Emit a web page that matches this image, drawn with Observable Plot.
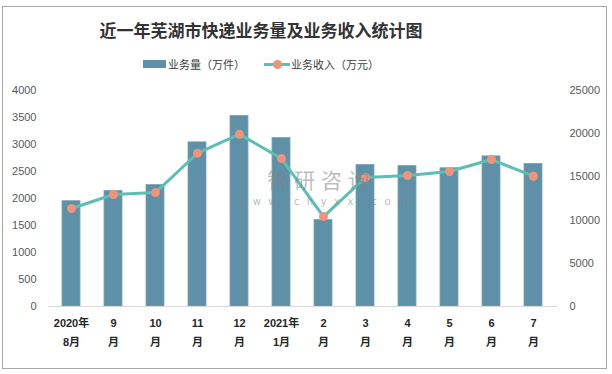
<!DOCTYPE html>
<html>
<head>
<meta charset="utf-8">
<script src="https://cdn.jsdelivr.net/npm/d3@7"></script>
<script src="https://cdn.jsdelivr.net/npm/@observablehq/plot@0.6"></script>
<style>
  html, body { margin: 0; padding: 0; background: #fff; }
  body { width: 612px; height: 374px; position: relative; overflow: hidden;
         font-family: "Liberation Sans", "Noto Sans CJK SC", sans-serif; }
  #frame { position: absolute; left: 2px; top: 6px; width: 605px; height: 363px;
           box-sizing: border-box; border: 1px solid #A6A6A6; pointer-events: none; }
  #title { position: absolute; left: 0; top: 19px; width: 522px; text-align: center;
           font-family: "Noto Sans CJK SC", sans-serif; font-weight: bold; font-size: 17px;
           line-height: 22px; color: #333; }
  .lg { position: absolute; top: 56px; font-family: "Noto Sans CJK SC", sans-serif;
        font-size: 11px; line-height: 16px; color: #404040; white-space: nowrap; }
  #chart { position: absolute; left: 0; top: 80px; z-index: 1; }
  .wm { position: absolute; z-index: 2; color: rgba(130,130,130,0.55); font-family: "Noto Sans CJK SC", sans-serif;
        white-space: nowrap; pointer-events: none; }
</style>
</head>
<body>
<div id="title">近一年芜湖市快递业务量及业务收入统计图</div>
<div id="legend"></div>
<div id="chart"></div>
<div class="wm" style="left:267px; top:168px; font-size:21px; letter-spacing:6px; line-height:22px;">智研咨询</div>
<div class="wm" style="left:237px; top:196px; font-size:10px; letter-spacing:7.5px; line-height:11px; font-family:'DejaVu Sans',sans-serif;">www.chyxx.com</div>
<div id="frame"></div>
<script>
const categories = ["2020年8月","9月","10月","11月","12月","2021年1月","2月","3月","4月","5月","6月","7月"];
const labelLine1 = ["2020年","9","10","11","12","2021年","2","3","4","5","6","7"];
const labelLine2 = ["8月","月","月","月","月","1月","月","月","月","月","月","月"];
const volume = [1950, 2140, 2250, 3040, 3530, 3120, 1600, 2620, 2600, 2560, 2780, 2640];
const revenue = [11340, 12960, 13190, 17740, 19940, 17120, 10410, 14930, 15160, 15620, 17010, 15080];
const leftTicks = [0, 500, 1000, 1500, 2000, 2500, 3000, 3500, 4000];
const rightTicks = [0, 5000, 10000, 15000, 20000, 25000];
const seriesNames = ["业务量（万件）", "业务收入（万元）"];

const barColor = "#5E91A8";
const lineColor = "#5BBFB3";
const dotColor = "#F0937B";

const leftMax = 4000, rightMax = 25000;
const k = leftMax / rightMax;

const data = categories.map((c, i) => ({cat: c, volume: volume[i], revenue: revenue[i]}));
const idx = d => categories.indexOf(d);

const chart = Plot.plot({
  width: 612,
  height: 294,
  marginTop: 10,
  marginBottom: 68,
  marginLeft: 48,
  marginRight: 55,
  style: {fontFamily: "'Liberation Sans', 'Noto Sans CJK SC', sans-serif", background: "transparent"},
  x: {domain: categories, paddingInner: 0.56, paddingOuter: 0.28, axis: null, label: null},
  y: {domain: [0, leftMax], axis: null, label: null},
  marks: [
    Plot.axisY(leftTicks, {anchor: "left", label: null, tickSize: 0, tickPadding: 12, fontSize: 11, fill: "#595959", tickFormat: d => String(d)}),
    Plot.axisY(rightTicks.map(v => v * k), {anchor: "right", label: null, tickSize: 0, tickPadding: 12, fontSize: 11, fill: "#595959", tickFormat: d => String(Math.round(d / k))}),
    Plot.barY(data, {x: "cat", y: "volume", fill: barColor, stroke: "#76A3B7", strokeWidth: 0.8}),
    Plot.ruleY([0], {stroke: "#D9D9D9", strokeWidth: 1}),
    Plot.line(data, {x: "cat", y: d => d.revenue * k, stroke: lineColor, strokeWidth: 3}),
    Plot.dot(data, {x: "cat", y: d => d.revenue * k, r: 4.5, fill: dotColor, stroke: null}),
    Plot.axisX({label: null, tickSize: 0, tickPadding: 13, fontSize: 11, fontWeight: "bold", fill: "#262626", tickFormat: d => labelLine1[idx(d)]}),
    Plot.axisX({label: null, tickSize: 0, tickPadding: 32, fontSize: 11, fontWeight: "bold", fill: "#262626", tickFormat: d => labelLine2[idx(d)]})
  ]
});
document.getElementById("chart").appendChild(chart);

// legend
const lg = document.getElementById("legend");
lg.innerHTML = `
  <div style="position:absolute; left:143px; top:60px; width:23px; height:8px; background:${barColor};"></div>
  <div class="lg" style="left:168px;">${seriesNames[0]}</div>
  <div style="position:absolute; left:264px; top:62.5px; width:26px; height:3px; background:${lineColor};"></div>
  <div style="position:absolute; left:272.5px; top:59.5px; width:9px; height:9px; border-radius:50%; background:${dotColor};"></div>
  <div class="lg" style="left:291px;">${seriesNames[1]}</div>
`;
</script>
</body>
</html>
